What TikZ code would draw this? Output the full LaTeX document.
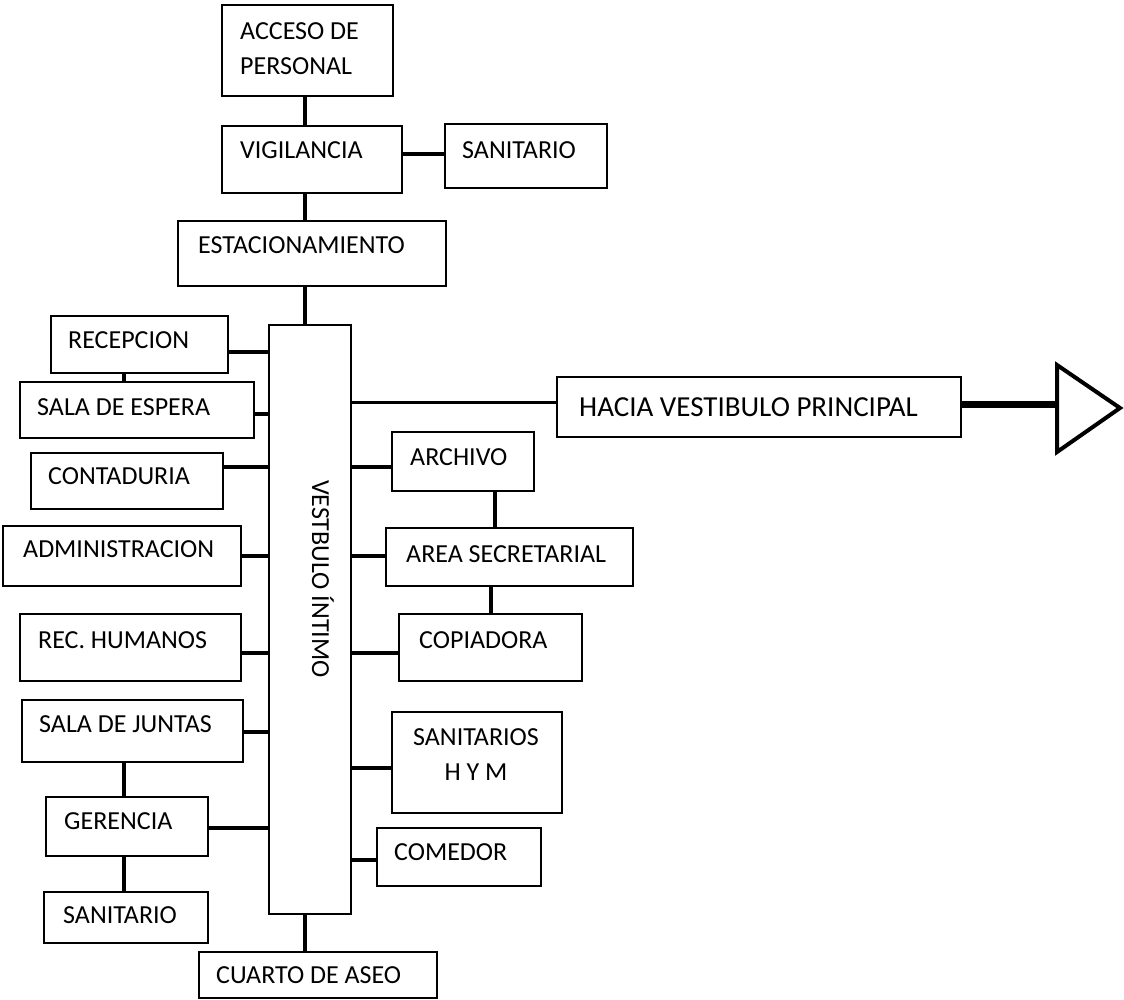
\documentclass[tikz,border=0pt]{standalone}
\usepackage{fontspec}
\setmainfont{Carlito}
\usetikzlibrary{calc}
\tikzset{
  box/.style={draw=black, line width=1.8pt, inner sep=0pt, outer sep=0pt, fill=white},
  conn/.style={draw=black, line width=4pt},
  thinconn/.style={draw=black, line width=3pt},
  lbl/.style={font=\fontsize{26}{35}\selectfont, inner sep=0pt, anchor=west, align=left, text=black},
  bigarrow/.style={draw=black, line width=4pt, line join=miter},
}
\newcommand\bx[5]{\node[box, minimum width={(#4-#2)*1pt}, minimum height={(#5-#3)*1pt}] (#1) at ({(#2+#4)/2},{(#3+#5)/2}) {};}
\newcommand\hconnL[3]{\path ($(#1.east)+(0,#3)$) coordinate (tmp); \draw[conn] (tmp) -- (tmp -| #2.west);}
\newcommand\hconnR[3]{\path ($(#1.west)+(0,#3)$) coordinate (tmp); \draw[conn] (tmp) -- (tmp -| #2.east);}
\begin{document}
\begin{tikzpicture}[x=1pt, y=-1pt]
\useasboundingbox[fill=white] (0,0) rectangle (1124,1000);
\coordinate (cx305) at (305,0);
\coordinate (cx124) at (124,0);
% connectors first (under boxes)
\bx{acc}{222}{5}{393}{96}
\bx{vig}{222}{126}{402}{193}
\bx{sanT}{445}{124}{607}{188}
\bx{est}{178}{221}{446}{286}
\bx{vest}{269}{325}{351}{914}
\bx{aseo}{199}{952}{437}{998}
\bx{rec}{51}{316}{228}{373}
\bx{esp}{20}{382}{254}{438}
\bx{cont}{31}{453}{223}{509}
\bx{adm}{3}{526}{241}{586}
\bx{rh}{20}{614}{241}{681}
\bx{sj}{22}{700}{243}{762}
\bx{ger}{46}{797}{208}{856}
\bx{sanB}{44}{892}{208}{943}
\bx{arch}{392}{432}{534}{491}
\bx{area}{386}{528}{633}{586}
\bx{cop}{399}{614}{582}{681}
\bx{sanHM}{392}{712}{562}{813}
\bx{com}{377}{828}{541}{886}
\bx{hacia}{557}{377}{961}{437}

% vertical connectors
\draw[conn] (acc.south -| cx305) -- (vig.north -| cx305);
\draw[conn] (vig.south -| cx305) -- (est.north -| cx305);
\draw[conn] (est.south -| cx305) -- (vest.north -| cx305);
\draw[conn] (vest.south -| cx305) -- (aseo.north -| cx305);
\draw[conn] (rec.south -| cx124) -- (esp.north -| cx124);
\draw[conn] (sj.south -| cx124) -- (ger.north -| cx124);
\draw[conn] (ger.south -| cx124) -- (sanB.north -| cx124);
\coordinate (cx495) at (495,0);
\coordinate (cx491) at (491,0);
\draw[conn] (arch.south -| cx495) -- (area.north -| cx495);
\draw[conn] (area.south -| cx491) -- (cop.north -| cx491);
% VIGILANCIA - SANITARIO
\path ($(vig.east)+(0,-5)$) coordinate (tv);
\draw[conn] (tv) -- (tv -| sanT.west);
% left side to vestibule
\hconnL{rec}{vest}{7.5}
\hconnL{esp}{vest}{4}
\hconnL{cont}{vest}{-14}
\hconnL{adm}{vest}{0}
\hconnL{rh}{vest}{5.5}
\hconnL{sj}{vest}{1}
\hconnL{ger}{vest}{1.5}
% right side to vestibule
\hconnR{arch}{vest}{5.5}
\hconnR{area}{vest}{-1}
\hconnR{cop}{vest}{5.5}
\hconnR{sanHM}{vest}{5.5}
\hconnR{com}{vest}{3}
% hacia
\path ($(hacia.west)+(0,-5)$) coordinate (th);
\draw[thinconn] (th) -- (th -| vest.east);
% big arrow
\coordinate (tb1) at (1057,365);
\coordinate (tb2) at (1057,452);
\coordinate (ttip) at (1120,408);
\path ($(hacia.east)+(0,-3)$) coordinate (ta);
\draw[black, line width=7pt] (ta) -- (ta -| tb1);
\draw[bigarrow, fill=white] (tb1) -- (ttip) -- (tb2) -- cycle;

% labels
\node[lbl] (tacc) at (240,48.5) {ACCESO DE\\PERSONAL};
\node[lbl] (tvig) at (240,150) {VIGILANCIA};
\node[lbl] (tsanT) at (462,150) {SANITARIO};
\node[lbl] (test) at (198,245) {ESTACIONAMIENTO};
\node[lbl] (trec) at (68,340) {RECEPCION};
\node[lbl] (tesp) at (37,407) {SALA DE ESPERA};
\node[lbl] (tcont) at (48,476) {CONTADURIA};
\node[lbl] (tadm) at (23,549) {ADMINISTRACION};
\node[lbl] (trh) at (38,640) {REC. HUMANOS};
\node[lbl] (tsj) at (39,724) {SALA DE JUNTAS};
\node[lbl] (tger) at (64,821) {GERENCIA};
\node[lbl] (tsanB) at (63,915) {SANITARIO};
\node[lbl] (taseo) at (216,975) {CUARTO DE ASEO};
\node[lbl] (tarch) at (410,457) {ARCHIVO};
\node[lbl] (tarea) at (406,554) {AREA SECRETARIAL};
\node[lbl] (tcop) at (419,640) {COPIADORA};
\node[lbl, anchor=center, align=center] (tsanHM) at (476,754.5) {SANITARIOS\\H Y M};
\node[lbl] (tcom) at (394,852) {COMEDOR};
\node[lbl, anchor=center, rotate=-90] (tvest) at (323,579) {VESTBULO ÍNTIMO};
\node[lbl, font=\fontsize{29}{35}\selectfont] (thacia) at (579,407) {HACIA VESTIBULO PRINCIPAL};
\end{tikzpicture}
\end{document}
